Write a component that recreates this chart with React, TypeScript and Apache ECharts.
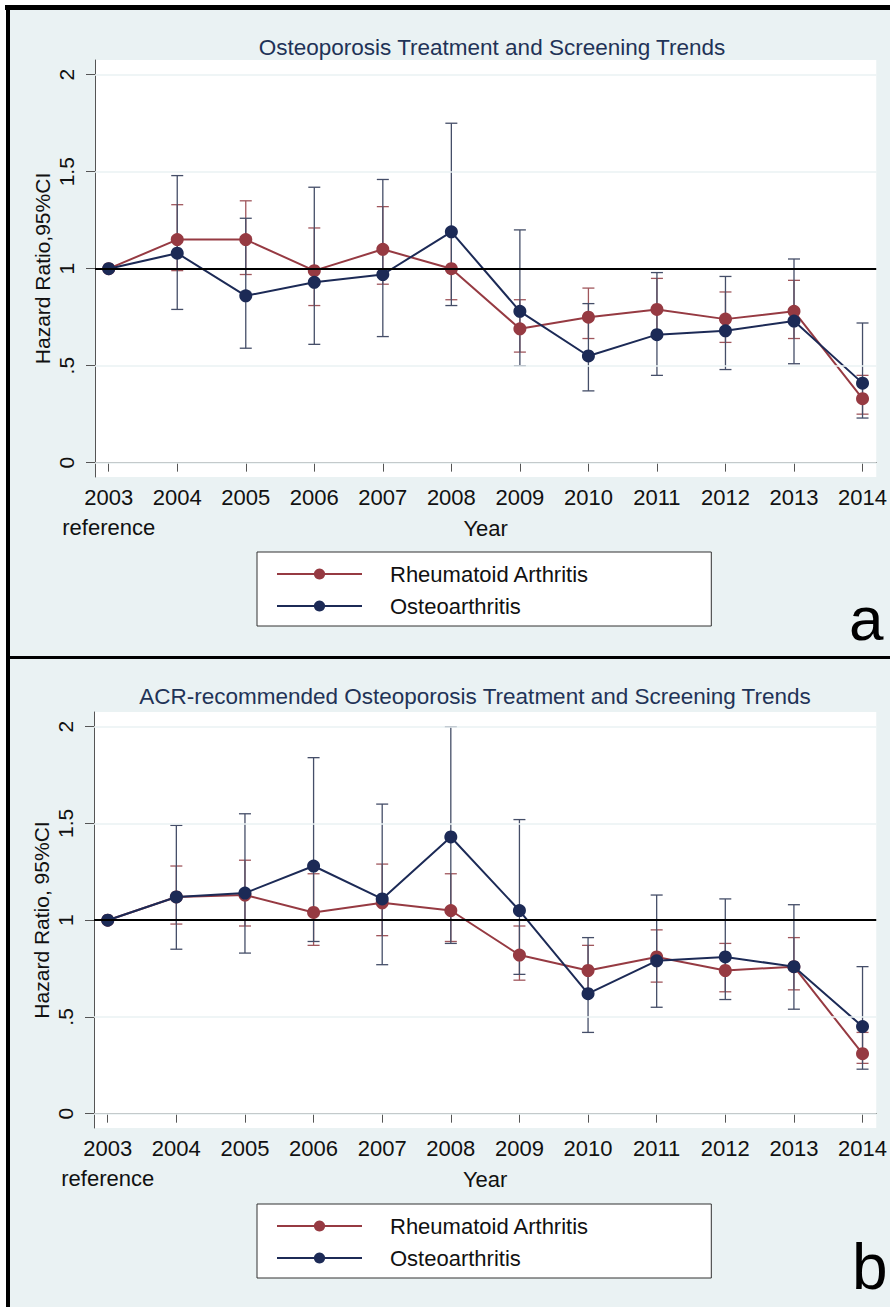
import React, { useEffect, useRef } from "react";
import * as echarts from "echarts";

// ---- data ----
const years = [2003, 2004, 2005, 2006, 2007, 2008, 2009, 2010, 2011, 2012, 2013, 2014];
const xTickLabels = ["2003", "2004", "2005", "2006", "2007", "2008", "2009", "2010", "2011", "2012", "2013", "2014"];
const referenceYear = [2003];
const referenceLabel = "reference";
const yTicks = [0, 0.5, 1, 1.5, 2];
const yTickLabels = ["0", ".5", "1", "1.5", "2"];
const seriesNames = ["Rheumatoid Arthritis", "Osteoarthritis"];

// Panel a: Osteoporosis Treatment and Screening Trends
const raA = [1, 1.15, 1.15, 0.99, 1.1, 1.0, 0.69, 0.75, 0.79, 0.74, 0.78, 0.33];
const raALow = [null, 0.99, 0.97, 0.81, 0.92, 0.84, 0.57, 0.64, 0.65, 0.62, 0.64, 0.25];
const raAHigh = [null, 1.33, 1.35, 1.21, 1.32, 1.19, 0.84, 0.9, 0.95, 0.88, 0.94, 0.45];
const oaA = [1, 1.08, 0.86, 0.93, 0.97, 1.19, 0.78, 0.55, 0.66, 0.68, 0.73, 0.41];
const oaALow = [null, 0.79, 0.59, 0.61, 0.65, 0.81, 0.5, 0.37, 0.45, 0.48, 0.51, 0.23];
const oaAHigh = [null, 1.48, 1.26, 1.42, 1.46, 1.75, 1.2, 0.82, 0.98, 0.96, 1.05, 0.72];

// Panel b: ACR-recommended Osteoporosis Treatment and Screening Trends
const raB = [1, 1.12, 1.13, 1.04, 1.09, 1.05, 0.82, 0.74, 0.81, 0.74, 0.76, 0.31];
const raBLow = [null, 0.98, 0.97, 0.87, 0.92, 0.89, 0.69, 0.62, 0.68, 0.63, 0.64, 0.26];
const raBHigh = [null, 1.28, 1.31, 1.24, 1.29, 1.24, 0.97, 0.87, 0.95, 0.88, 0.91, 0.42];
const oaB = [1, 1.12, 1.14, 1.28, 1.11, 1.43, 1.05, 0.62, 0.79, 0.81, 0.76, 0.45];
const oaBLow = [null, 0.85, 0.83, 0.89, 0.77, 0.88, 0.72, 0.42, 0.55, 0.59, 0.54, 0.23];
const oaBHigh = [null, 1.49, 1.55, 1.84, 1.6, 2.0, 1.52, 0.91, 1.13, 1.11, 1.08, 0.76];

const titles = [
  "Osteoporosis Treatment and Screening Trends",
  "ACR-recommended Osteoporosis Treatment and Screening Trends",
];
const yNames = ["Hazard Ratio,95%CI", "Hazard Ratio, 95%CI"];
const panelLetters = ["a", "b"];

// ---- styles ----
const FONT = "Liberation Sans, Arial, Helvetica, sans-serif";
const RA_COLOR = "#963a42";
const OA_COLOR = "#1c2a56";
const RA_CI = "#a0565c";
const OA_CI = "#454e68";
const BG = "#eaf2f3";

const pair = (x: number[], v: (number | null)[]) => x.map((xx, i) => [xx, v[i]]);
const ciData = (lo: (number | null)[], hi: (number | null)[]) =>
  years
    .map((y, i) => [y, lo[i], hi[i]])
    .filter((d) => d[1] !== null && d[2] !== null);

function errorBarSeries(idx: number, name: string, data: any[], color: string) {
  return {
    type: "custom",
    name,
    xAxisIndex: idx,
    yAxisIndex: idx,
    z: 2,
    silent: true,
    encode: { x: 0, y: [1, 2] },
    data,
    renderItem: (params: any, api: any) => {
      const x = api.value(0);
      const p1 = api.coord([x, api.value(1)]);
      const p2 = api.coord([x, api.value(2)]);
      const hw = 6;
      const st = { stroke: color, lineWidth: 1.3 };
      return {
        type: "group",
        children: [
          { type: "line", shape: { x1: p1[0], y1: p1[1], x2: p2[0], y2: p2[1] }, style: st },
          { type: "line", shape: { x1: p1[0] - hw, y1: p1[1], x2: p1[0] + hw, y2: p1[1] }, style: st },
          { type: "line", shape: { x1: p2[0] - hw, y1: p2[1], x2: p2[0] + hw, y2: p2[1] }, style: st },
        ],
      };
    },
  };
}

function lineSeries(idx: number, name: string, vals: number[], color: string, z: number) {
  return {
    type: "line",
    name,
    xAxisIndex: idx,
    yAxisIndex: idx,
    z,
    data: pair(years, vals),
    symbol: "circle",
    symbolSize: 13,
    showSymbol: true,
    lineStyle: { color, width: 2 },
    itemStyle: { color },
  };
}

function refLinesSeries(idx: number) {
  return {
    type: "line",
    name: "ref" + idx,
    xAxisIndex: idx,
    yAxisIndex: idx,
    z: 1,
    data: [],
    silent: true,
    markLine: {
      silent: true,
      symbol: "none",
      label: { show: false },
      animation: false,
      data: [
        ...yTicks
          .filter((v) => v !== 1)
          .map((v) => ({ yAxis: v, lineStyle: { color: BG, width: 1.5, type: "solid" } })),
        { yAxis: 1, lineStyle: { color: "#000", width: 2.2, type: "solid" } },
      ],
    },
  };
}

const grids = [
  { left: 95, top: 60, width: 782, height: 417 },
  { left: 94, top: 712, width: 783, height: 416 },
];

function xAxis(idx: number) {
  return {
    type: "value",
    gridIndex: idx,
    min: 2002.8,
    max: 2014.2,
    name: "Year",
    nameLocation: "middle",
    nameGap: 40,
    nameMoveOverlap: false,
    nameTextStyle: { fontSize: 22, color: "#111", fontFamily: FONT },
    splitLine: { show: false },
    axisLine: { show: true, lineStyle: { color: "#555", width: 1 } },
    axisTick: { show: true, length: 9, lineStyle: { color: "#555" }, customValues: years },
    axisLabel: {
      customValues: years,
      showMinLabel: true,
      showMaxLabel: true,
      hideOverlap: false,
      fontSize: 22,
      color: "#111",
      fontFamily: FONT,
      margin: 9,
      formatter: (v: number) => xTickLabels[years.indexOf(Math.round(v))] ?? "",
    },
  };
}

// secondary axis carrying only the "reference" note under 2003
function refAxis(idx: number) {
  return {
    type: "value",
    gridIndex: idx,
    position: "bottom",
    offset: 30,
    min: 2002.8,
    max: 2014.2,
    splitLine: { show: false },
    axisLine: { show: false },
    axisTick: { show: false, customValues: referenceYear },
    axisLabel: {
      customValues: referenceYear,
      showMinLabel: true,
      fontSize: 22,
      color: "#111",
      fontFamily: FONT,
      margin: 9,
      formatter: () => referenceLabel,
    },
  };
}

function yAxis(idx: number) {
  return {
    type: "value",
    gridIndex: idx,
    min: -0.074,
    max: 2.076,
    name: yNames[idx],
    nameLocation: "middle",
    nameGap: 42,
    nameMoveOverlap: false,
    nameTextStyle: { fontSize: 21, color: "#111", fontFamily: FONT },
    splitLine: { show: false },
    axisLine: { show: true, lineStyle: { color: "#555", width: 1 } },
    axisTick: { show: true, length: 9, lineStyle: { color: "#555" }, customValues: yTicks },
    axisLabel: {
      customValues: yTicks,
      showMinLabel: true,
      showMaxLabel: true,
      rotate: 90,
      fontSize: 21,
      color: "#111",
      fontFamily: FONT,
      margin: 18,
      formatter: (v: number) => {
        const i = yTicks.findIndex((t) => Math.abs(t - v) < 1e-9);
        return i >= 0 ? yTickLabels[i] : "";
      },
    },
  };
}

function legend(top: number) {
  return {
    orient: "vertical",
    left: 257,
    top,
    padding: [11, 122, 9, 19],
    itemGap: 10,
    itemWidth: 85,
    itemHeight: 14,
    backgroundColor: "#fff",
    borderColor: "#333",
    borderWidth: 1,
    borderRadius: 0,
    selectedMode: false,
    data: seriesNames,
    textStyle: { fontSize: 22, color: "#111", fontFamily: FONT, padding: [0, 0, 0, 23] },
  };
}

export default function App() {
  const ref = useRef<HTMLDivElement>(null);
  useEffect(() => {
    document.body.style.margin = "0";
    if (!ref.current) return;
    const chart = echarts.init(ref.current, null, { renderer: "svg" });
    const titleStyle = { fontSize: 22.5, fontWeight: "normal", color: "#1f3357", fontFamily: FONT };
    const option: any = {
      animation: false,
      backgroundColor: BG,
      textStyle: { fontFamily: FONT },
      title: [
        { text: titles[0], left: 487, top: 31, textAlign: "center", textStyle: titleStyle },
        { text: titles[1], left: 470, top: 680, textAlign: "center", textStyle: titleStyle },
        { text: panelLetters[0], left: 844, top: 582, textStyle: { fontSize: 62, fontWeight: "normal", color: "#000", fontFamily: FONT } },
        { text: panelLetters[1], left: 847, top: 1230, textStyle: { fontSize: 64, fontWeight: "normal", color: "#000", fontFamily: FONT } },
      ],
      graphic: [
        { type: "rect", z: -10, shape: { x: 0, y: 0, width: 890, height: 5 }, style: { fill: "#fff" } },
        { type: "rect", z: -10, shape: { x: 0, y: 0, width: 6, height: 1307 }, style: { fill: "#fff" } },
        { type: "rect", z: -9, shape: { x: 5, y: 5, width: 885, height: 5 }, style: { fill: "#000" } },
        { type: "rect", z: -9, shape: { x: 6, y: 5, width: 4, height: 1302 }, style: { fill: "#000" } },
        { type: "rect", z: -9, shape: { x: 6, y: 656, width: 884, height: 3 }, style: { fill: "#000" } },
      ],
      grid: grids.map((g) => ({ ...g, show: true, backgroundColor: "#fff", borderWidth: 0, containLabel: false })),
      xAxis: [xAxis(0), xAxis(1), refAxis(0), refAxis(1)],
      yAxis: [yAxis(0), yAxis(1)],
      legend: [legend(552), legend(1204)],
      series: [
        refLinesSeries(0),
        errorBarSeries(0, "RA 95% CI", ciData(raALow, raAHigh), RA_CI),
        errorBarSeries(0, "OA 95% CI", ciData(oaALow, oaAHigh), OA_CI),
        lineSeries(0, seriesNames[0], raA, RA_COLOR, 3),
        lineSeries(0, seriesNames[1], oaA, OA_COLOR, 4),
        refLinesSeries(1),
        errorBarSeries(1, "RA 95% CI", ciData(raBLow, raBHigh), RA_CI),
        errorBarSeries(1, "OA 95% CI", ciData(oaBLow, oaBHigh), OA_CI),
        lineSeries(1, seriesNames[0], raB, RA_COLOR, 3),
        lineSeries(1, seriesNames[1], oaB, OA_COLOR, 4),
      ],
    };
    chart.setOption(option);
    return () => chart.dispose();
  }, []);
  return <div ref={ref} style={{ width: 890, height: 1307 }} />;
}
